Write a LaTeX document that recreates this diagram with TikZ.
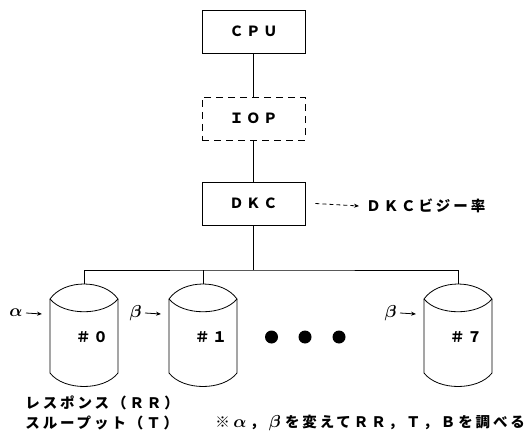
\documentclass[tikz,border=0pt]{standalone}
\usepackage{bm}
\usepackage{fontspec}
\setmainfont[LetterSpace=20]{Noto Sans CJK JP}
\usetikzlibrary{arrows.meta}
\newcommand{\gk}[1]{\makebox[1.4em]{\fontsize{16}{18}\selectfont$\bm{#1}$}}
\begin{document}
\begin{tikzpicture}[x=1pt,y=-1pt,line width=0.8pt,
  box/.style={draw,minimum width=103pt,minimum height=43pt,inner sep=0pt,
    font=\fontsize{14}{16}\selectfont\bfseries},
  lbl/.style={inner sep=0pt,font=\fontsize{14.5}{16}\selectfont\bfseries},
  disk/.style={draw,fill=white},
  tip/.style={-{Stealth[length=5pt,width=4pt]}},
  dot/.style={circle,fill=black,inner sep=0pt,minimum size=13pt}]
\useasboundingbox (0,0) rectangle (527,433);
% boxes
\node[box] (cpu) at (253.5,31.5) {ＣＰＵ};
\node[box,dash pattern=on 7pt off 5pt] (iop) at (253.5,118.5) {ＩＯＰ};
\node[box] (dkc) at (253.5,203.5) {ＤＫＣ};
\draw (cpu) -- (iop);
\draw (iop) -- (dkc);
% busy rate
\node[lbl,anchor=west] (busy) at (366,206) {ＤＫＣビジー率};
\draw[dash pattern=on 4pt off 3pt,tip] ([xshift=10pt]dkc.east) -- ([xshift=-7pt]busy.west);
% disks
\foreach \cx/\n/\d/\g in {84/0/０/\alpha,203/1/１/\beta,458/7/７/\beta}{
  \draw[disk] (\cx-34,299) .. controls (\cx-20,279) and (\cx+20,279) .. (\cx+34,299)
     -- (\cx+34,373) .. controls (\cx+20,391) and (\cx-20,391) .. (\cx-34,373) -- cycle;
  \draw (\cx-34,299) .. controls (\cx-20,316) and (\cx+20,316) .. (\cx+34,299);
  \node[lbl] (num\n) at (\cx+8,337) {＃\d};
  \coordinate (top\n) at (\cx,284);
  \coordinate (in\n) at (\cx-42,314);
  \node[inner sep=0pt,anchor=east] (g\n) at (\cx-61,313) {\fontsize{16}{18}\selectfont$\bm{\g}$};
  \draw[tip,line width=0.8pt] ([xshift=3pt]g\n.east) -- (in\n);
}
% bus
\coordinate (bus) at (253.5,270);
\draw (dkc.south) -- (bus);
\draw (top0) |- (bus) -| (top7);
\draw (top1) -- (top1 |- bus);
% dots
\node[dot] (d1) at (271.5,337) {};
\node[dot] (d2) at (305,337) {};
\node[dot] (d3) at (339,337) {};
% texts
\node[lbl,anchor=west] (resp) at (25,403) {レスポンス（ＲＲ）};
\node[lbl,anchor=west] (thru) at (25,423) {スループット（Ｔ）};
\node[lbl,anchor=west] (note) at (215,423) {※\gk{\alpha}，\gk{\beta}を変えてＲＲ，Ｔ，Ｂを調べる};
\end{tikzpicture}
\end{document}
